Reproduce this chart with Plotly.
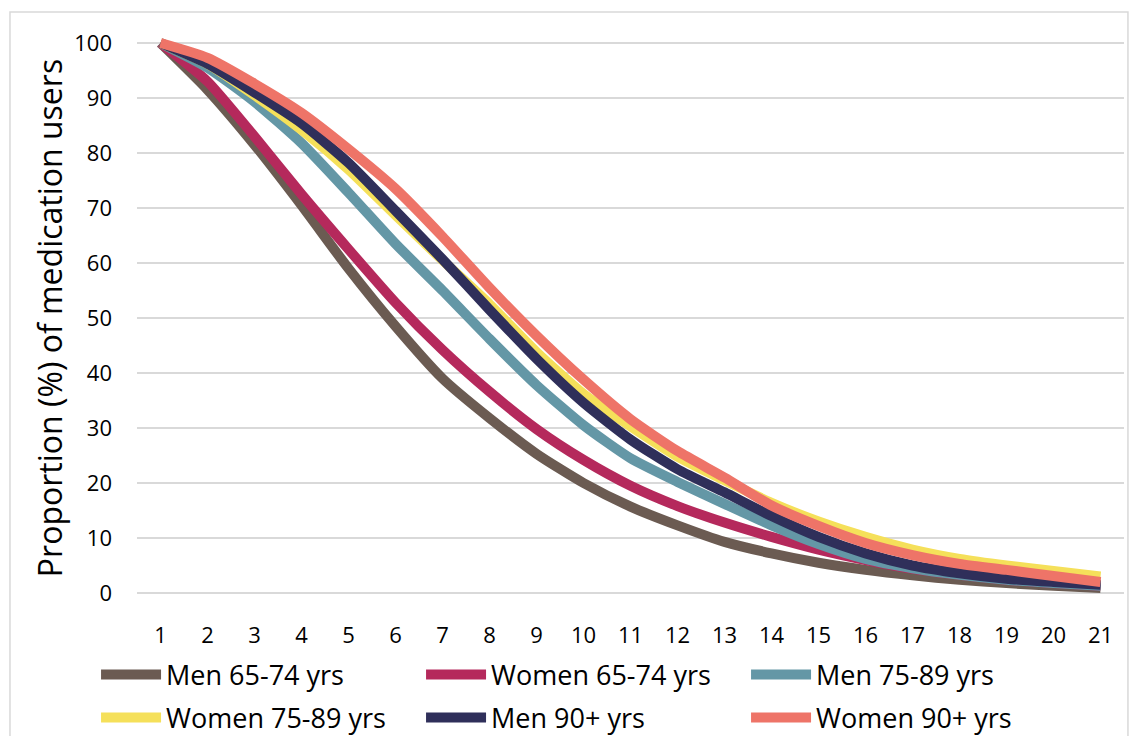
import plotly.graph_objects as go

months = list(range(1, 22))

men_65_74 = [100, 91.5, 81.5, 70.5, 59, 48.5, 39, 31.8, 25.3, 20, 15.7, 12.3, 9.3, 7.2, 5.5, 4.2, 3.2, 2.4, 1.8, 1.3, 0.9]
women_65_74 = [100, 93, 83, 72.5, 62.5, 52.8, 44.2, 36.6, 29.8, 24.2, 19.5, 15.8, 12.8, 10.2, 7.9, 6.0, 4.4, 3.3, 2.4, 1.8, 1.3]
men_75_89 = [100, 95.5, 89.3, 81.8, 72.8, 63.5, 55, 46.2, 37.8, 30.5, 24.5, 20.2, 16.2, 12.3, 8.9, 6.2, 4.5, 3.3, 2.4, 1.8, 1.3]
women_75_89 = [100, 96.2, 90.5, 84.2, 77, 68.7, 60.5, 52.5, 43.8, 36.2, 30.3, 24.8, 20.5, 16.4, 13, 10.2, 7.9, 6.2, 5.0, 4.0, 3.0]
men_90 = [100, 96.2, 91, 85.4, 78.2, 69.5, 60.7, 51.5, 42.6, 34.6, 27.9, 22.5, 18.3, 14, 10.2, 7.2, 5.0, 3.6, 2.6, 2.0, 1.5]
women_90 = [100, 97.3, 92.6, 87.3, 80.7, 73.5, 64.8, 55.5, 46.8, 38.8, 31.6, 25.8, 21, 15.9, 12.2, 9.1, 6.9, 5.3, 4.2, 3.1, 2.0]

series = [
    ("Men 65-74 yrs", men_65_74, "#6B5B52", "legend"),
    ("Women 65-74 yrs", women_65_74, "#B5295C", "legend"),
    ("Men 75-89 yrs", men_75_89, "#6497A6", "legend"),
    ("Women 75-89 yrs", women_75_89, "#F5E05A", "legend2"),
    ("Men 90+ yrs", men_90, "#2F2F5A", "legend2"),
    ("Women 90+ yrs", women_90, "#EE7468", "legend2"),
]

fig = go.Figure()
for name, vals, col, lg in series:
    fig.add_trace(go.Scatter(
        x=months, y=vals, name=name, mode="lines", legend=lg,
        line=dict(color=col, width=10, shape="spline", smoothing=0.6),
        cliponaxis=False,
    ))

legend_font = dict(family="Open Sans, sans-serif", size=27, color="#000000")
legend_common = dict(
    orientation="h", xref="container", yref="container",
    x=0.085, xanchor="left", yanchor="middle",
    font=legend_font, entrywidth=250, entrywidthmode="pixels",
    itemwidth=60, bgcolor="rgba(0,0,0,0)",
)

fig.update_layout(
    width=1130, height=736,
    margin=dict(l=137, r=6, t=32, b=132),
    paper_bgcolor="white", plot_bgcolor="white",
    showlegend=True,
    legend=dict(y=1 - 675 / 736, **legend_common),
    legend2=dict(y=1 - 718 / 736, **legend_common),
    xaxis=dict(
        range=[0.5, 21.5], tickmode="array", tickvals=months,
        ticktext=[str(m) for m in months],
        showgrid=False, showline=False, zeroline=False, ticks="",
        ticklabelstandoff=16, automargin=False,
        tickfont=dict(family="Open Sans, sans-serif", size=22, color="#000000"),
    ),
    yaxis=dict(
        range=[-2, 102], tickmode="array", tickvals=list(range(0, 101, 10)),
        showgrid=True, gridcolor="#D9D9D9", gridwidth=1.5, zeroline=False,
        showline=False, ticks="", ticklabelstandoff=24,
        tickfont=dict(family="Open Sans, sans-serif", size=22, color="#000000"),
        title=dict(text="Proportion (%) of medication users",
                   font=dict(family="Open Sans, sans-serif", size=32, color="#000000"),
                   standoff=2),
    ),
    shapes=[dict(type="rect", xref="paper", yref="paper", x0=-0.1287, x1=1.004, y0=-0.3, y1=1.035,
                 line=dict(color="#D9D9D9", width=1.5), fillcolor="rgba(0,0,0,0)", layer="below")],
)

fig.write_html("out.html")
